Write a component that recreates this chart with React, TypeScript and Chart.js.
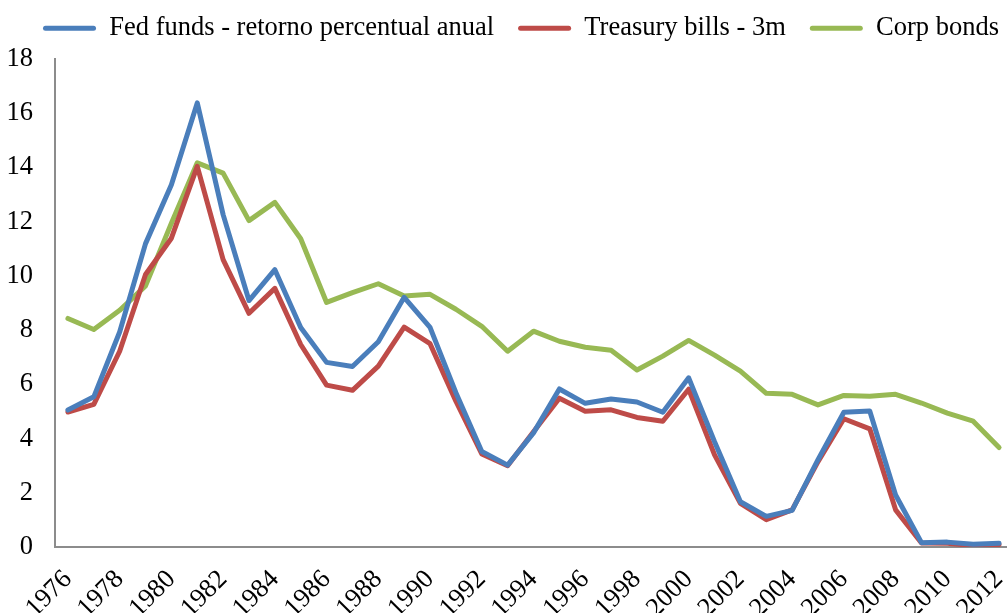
import React, { useEffect, useRef } from 'react';
import { Chart, registerables } from 'chart.js';

Chart.register(...registerables);

const years = [
  '1976', '1977', '1978', '1979', '1980', '1981', '1982', '1983', '1984', '1985',
  '1986', '1987', '1988', '1989', '1990', '1991', '1992', '1993', '1994', '1995',
  '1996', '1997', '1998', '1999', '2000', '2001', '2002', '2003', '2004', '2005',
  '2006', '2007', '2008', '2009', '2010', '2011', '2012',
];

const fedFunds = [
  5.05, 5.54, 7.93, 11.19, 13.36, 16.38, 12.26, 9.09, 10.23, 8.1,
  6.81, 6.66, 7.57, 9.21, 8.1, 5.69, 3.52, 3.02, 4.21, 5.83,
  5.3, 5.46, 5.35, 4.97, 6.24, 3.88, 1.67, 1.13, 1.35, 3.22,
  4.97, 5.02, 1.92, 0.16, 0.18, 0.1, 0.14,
];

const treasuryBills = [
  4.98, 5.26, 7.22, 10.05, 11.39, 14.04, 10.6, 8.62, 9.54, 7.47,
  5.97, 5.78, 6.67, 8.11, 7.5, 5.38, 3.43, 3.0, 4.25, 5.49,
  5.01, 5.06, 4.78, 4.64, 5.82, 3.4, 1.61, 1.01, 1.37, 3.15,
  4.73, 4.36, 1.37, 0.15, 0.14, 0.05, 0.09,
];

const corpBonds = [
  8.43, 8.02, 8.73, 9.63, 11.94, 14.17, 13.79, 12.04, 12.71, 11.37,
  9.02, 9.38, 9.71, 9.26, 9.32, 8.77, 8.14, 7.22, 7.96, 7.59,
  7.37, 7.26, 6.53, 7.04, 7.62, 7.08, 6.49, 5.67, 5.63, 5.24,
  5.59, 5.56, 5.63, 5.31, 4.94, 4.64, 3.67,
];

const seriesNames = ['Fed funds - retorno percentual anual', 'Treasury bills - 3m', 'Corp bonds'];
const seriesColors = ['#4A7EBB', '#BE4B48', '#98B954'];

const yMin = 0;
const yMax = 18;
const yStep = 2;

const FONT = 'Liberation Serif, Times New Roman, serif';
const FONT_SIZE = 26.5;

export default function App() {
  const ref = useRef<HTMLCanvasElement | null>(null);

  useEffect(() => {
    if (!ref.current) return;
    const legendFit = {
      id: 'legendFit',
      beforeInit(chart: any) {
        const leg = chart.legend;
        if (!leg) return;
        const orig = leg.fit;
        leg.fit = function () {
          orig.call(this);
          this.height = 68;
        };
      },
    };

    const data = [fedFunds, treasuryBills, corpBonds];
    const chart = new Chart(ref.current, {
      type: 'line',
      data: {
        labels: years,
        datasets: data.map((d, i) => ({
          label: seriesNames[i],
          data: d,
          borderColor: seriesColors[i],
          backgroundColor: seriesColors[i],
          borderWidth: 5,
          borderCapStyle: 'round' as const,
          borderJoinStyle: 'round' as const,
          pointRadius: 0,
          pointHoverRadius: 0,
          tension: 0,
          fill: false,
        })),
      },
      options: {
        responsive: false,
        animation: false,
        devicePixelRatio: 1,
        layout: { padding: { top: -9, left: 0, right: 18, bottom: 0 } },
        plugins: {
          tooltip: { enabled: false },
          legend: {
            display: true,
            position: 'top',
            align: 'center',
            labels: {
              boxWidth: 53,
              boxHeight: 5,
              useBorderRadius: true,
              borderRadius: 2.5,
              padding: 24,
              color: '#000',
              font: { family: FONT, size: FONT_SIZE },
              generateLabels(chart: any) {
                const items = Chart.defaults.plugins.legend.labels.generateLabels(chart);
                return items.map((it: any, i: number) => ({
                  ...it,
                  fillStyle: seriesColors[i],
                  strokeStyle: seriesColors[i],
                  lineWidth: 0,
                }));
              },
            },
          },
        },
        scales: {
          x: {
            type: 'category',
            offset: true,
            grid: { display: false, drawTicks: false },
            border: { display: true, color: '#8C8C8C', width: 2 },
            ticks: {
              autoSkip: false,
              minRotation: 45,
              maxRotation: 45,
              padding: 17,
              color: '#000',
              font: { family: FONT, size: FONT_SIZE },
              callback: function (this: any, v: any, i: number) {
                return i % 2 === 0 ? years[i] : '';
              },
            },
            afterFit(s: any) {
              s.height = 66;
              s.paddingLeft = 0;
              s.paddingRight = 48;
            },
          },
          y: {
            min: yMin,
            max: yMax,
            grid: { display: false, drawTicks: false },
            border: { display: true, color: '#8C8C8C', width: 2 },
            ticks: {
              stepSize: yStep,
              padding: 22,
              color: '#000',
              font: { family: FONT, size: FONT_SIZE },
            },
            afterFit(s: any) {
              s.width = 55;
              s.paddingTop = 0;
              s.paddingBottom = 0;
            },
          },
        },
      },
      plugins: [legendFit],
    } as any);
    return () => chart.destroy();
  }, []);

  return (
    <div
      style={{
        position: 'fixed',
        left: 0,
        top: 0,
        width: 1007,
        height: 613,
        overflow: 'hidden',
        background: '#fff',
      }}
    >
      <canvas ref={ref} width={1060} height={613} style={{ display: 'block' }} />
    </div>
  );
}
